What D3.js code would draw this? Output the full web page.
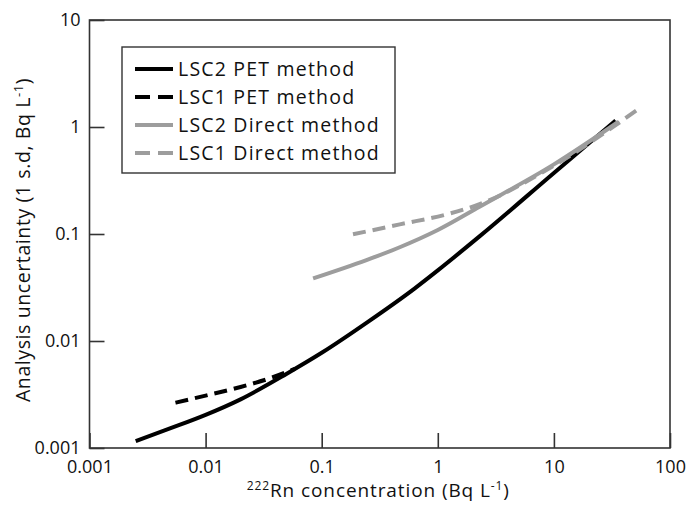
<!DOCTYPE html>
<html>
<head>
<meta charset="utf-8">
<script src="https://cdn.jsdelivr.net/npm/d3@7"></script>
<style>
  body { margin: 0; background: #fff; }
  text { font-family: "Open Sans", Lato, sans-serif; fill: #111; }
</style>
</head>
<body>
<div id="chart"></div>
<script>
const WIDTH = 688;
const HEIGHT = 510;
const MARGIN = { top: 20, left: 89.5, right: 18, bottom: 62 };
const FONT = "'Open Sans', Lato, sans-serif";

// values (x: Bq/L, y: 1 s.d.)
const lsc2PetX = [0.0025, 0.005, 0.01, 0.02, 0.05, 0.1, 0.25, 0.63, 1, 2.3, 10, 34];
const lsc2PetY = [0.00116, 0.00153, 0.00204, 0.00285, 0.00495, 0.00776, 0.0151, 0.0309, 0.0457, 0.0955, 0.372, 1.15];
const lsc1PetX = [0.0055, 0.01, 0.02, 0.0355, 0.0589];
const lsc1PetY = [0.00265, 0.00309, 0.00372, 0.00447, 0.0055];
const lsc2DirX = [0.0843, 0.243, 0.47, 1, 2.29, 10, 36];
const lsc2DirY = [0.0385, 0.0571, 0.0752, 0.109, 0.18, 0.447, 1.12];
const lsc1DirX = [0.186, 0.47, 1.26, 2.29, 10, 52];
const lsc1DirY = [0.0993, 0.123, 0.155, 0.19, 0.436, 1.44];

const xTicks = [0.001, 0.01, 0.1, 1, 10, 100];
const xTickLabels = ["0.001", "0.01", "0.1", "1", "10", "100"];
const yTicks = [0.001, 0.01, 0.1, 1, 10];
const yTickLabels = ["0.001", "0.01", "0.1", "1", "10"];

const seriesNames = ["LSC2 PET method", "LSC1 PET method", "LSC2 Direct method", "LSC1 Direct method"];
const seriesColors = ["#000", "#000", "#9d9d9d", "#9d9d9d"];
const seriesDash = [null, "13,7", null, "13,7"];

const series = [
  [lsc2PetX, lsc2PetY],
  [lsc1PetX, lsc1PetY],
  [lsc2DirX, lsc2DirY],
  [lsc1DirX, lsc1DirY],
].map(([xs, ys], i) => ({
  name: seriesNames[i],
  color: seriesColors[i],
  dash: seriesDash[i],
  points: xs.map((x, j) => [x, ys[j]]),
}));

const svg = d3.select("#chart").append("svg")
  .attr("width", WIDTH)
  .attr("height", HEIGHT);

const innerW = WIDTH - MARGIN.left - MARGIN.right;
const innerH = 448 - MARGIN.top;

const x = d3.scaleLog().domain([0.001, 100]).range([0, innerW]);
const y = d3.scaleLog().domain([0.001, 10]).range([innerH, 0]);

const g = svg.append("g")
  .attr("transform", `translate(${MARGIN.left}, ${MARGIN.top})`);

// frame
g.append("rect")
  .attr("width", innerW)
  .attr("height", innerH)
  .attr("fill", "none")
  .attr("stroke", "#333")
  .attr("stroke-width", 1.6);

// axes, ticks pointing inward
const xAxis = g.append("g")
  .attr("transform", `translate(0, ${innerH})`)
  .call(d3.axisBottom(x).tickValues(xTicks).tickSize(-15).tickPadding(25)
    .tickFormat((d, i) => xTickLabels[i]));

const yAxis = g.append("g")
  .call(d3.axisLeft(y).tickValues(yTicks).tickSize(-15).tickPadding(24)
    .tickFormat((d, i) => yTickLabels[i]));

[xAxis, yAxis].forEach(ax => {
  ax.select(".domain").remove();
  ax.selectAll("line").attr("stroke", "#333").attr("stroke-width", 1.6);
  ax.selectAll("text")
    .attr("font-size", 18)
    .attr("font-family", FONT)
    .attr("fill", "#111");
});
xAxis.selectAll(".tick text").attr("dy", "0em");
yAxis.selectAll(".tick text").attr("dy", "0.28em").attr("x", -9);

// curves
const line = d3.line()
  .x(d => x(d[0]))
  .y(d => y(d[1]))
  .curve(d3.curveMonotoneX);

g.selectAll("path.curve")
  .data(series)
  .join("path")
    .attr("class", "curve")
    .attr("d", d => line(d.points))
    .attr("fill", "none")
    .attr("stroke", d => d.color)
    .attr("stroke-width", 4)
    .attr("stroke-dasharray", d => d.dash);

// legend
const leyenda = svg.append("g").attr("transform", "translate(122, 47)");

leyenda.append("rect")
  .attr("width", 273)
  .attr("height", 126)
  .attr("fill", "#fff")
  .attr("stroke", "#333")
  .attr("stroke-width", 1.4);

const rows = leyenda.selectAll("g.row")
  .data(series)
  .join("g")
    .attr("class", "row")
    .attr("transform", (d, i) => `translate(0, ${22 + i * 28})`);

rows.append("line")
  .attr("x1", 13)
  .attr("x2", 51)
  .attr("stroke", d => d.color)
  .attr("stroke-width", 4)
  .attr("stroke-dasharray", d => d.dash ? "15,8" : null);

rows.append("text")
  .attr("x", 56)
  .attr("dy", "0.36em")
  .attr("font-size", 19.5)
  .attr("letter-spacing", 1.2)
  .text(d => d.name);

// axis titles
const xt = svg.append("text")
  .attr("x", 90 + innerW / 2 - 2)
  .attr("y", 497)
  .attr("text-anchor", "middle")
  .attr("font-size", 19)
  .attr("letter-spacing", 0.9);
xt.append("tspan").attr("font-size", 12).attr("dy", -7).text("222");
xt.append("tspan").attr("dy", 7).text("Rn concentration (Bq L");
xt.append("tspan").attr("font-size", 12).attr("dy", -7).text("-1");
xt.append("tspan").attr("dy", 7).text(")");

const yt = svg.append("text")
  .attr("transform", `translate(30, ${MARGIN.top + innerH / 2 + 6}) rotate(-90)`)
  .attr("text-anchor", "middle")
  .attr("font-size", 19.5)
  .attr("letter-spacing", 0.6);
yt.append("tspan").text("Analysis uncertainty (1 s.d, Bq L");
yt.append("tspan").attr("font-size", 13).attr("dy", -7).text("-1");
yt.append("tspan").attr("dy", 7).text(")");
</script>
</body>
</html>
